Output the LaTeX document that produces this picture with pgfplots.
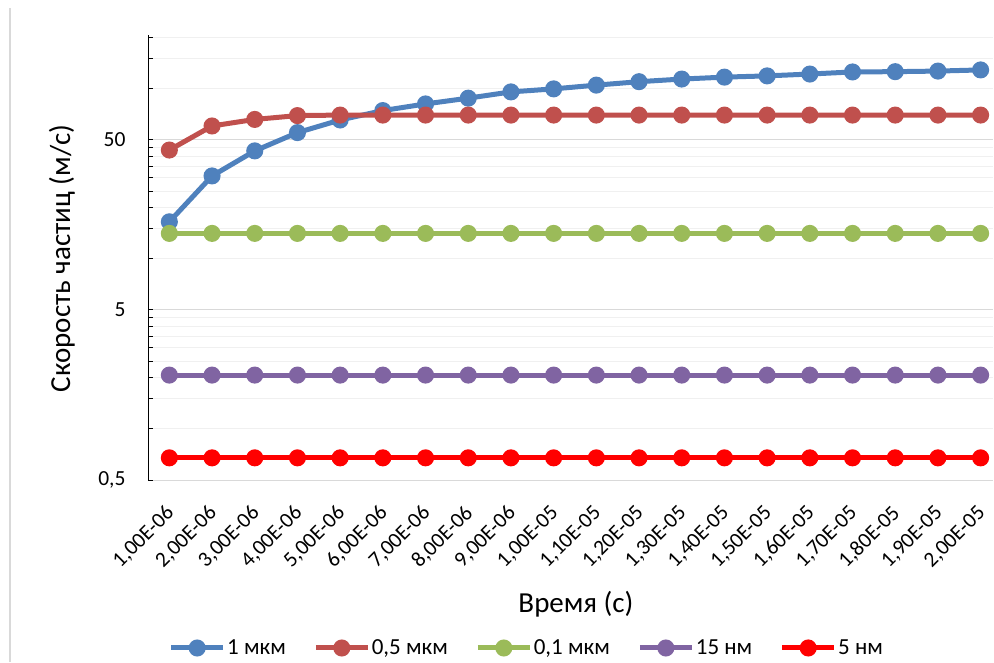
\documentclass[border=0pt]{standalone}
\usepackage{fontspec}
\setmainfont{Carlito}
\usepackage{pgfplots}
\pgfplotsset{compat=1.18}
\definecolor{cBlue}{HTML}{4F81BD}
\definecolor{cRed}{HTML}{C0504D}
\definecolor{cGreen}{HTML}{9BBB59}
\definecolor{cPurple}{HTML}{8064A2}
\definecolor{cPure}{HTML}{FF0000}
\definecolor{gMaj}{HTML}{D9D9D9}
\definecolor{gMin}{HTML}{F0F0F0}
\begin{document}
\begin{tikzpicture}
\path[use as bounding box] (0pt,0pt) rectangle (994pt,662pt);
\draw[gMaj, line width=1.5pt] (10pt,0pt) -- (10pt,654pt);
\begin{axis}[
  at={(148pt,182pt)}, anchor=south west,
  scale only axis, width=845pt, height=445pt,
  ymode=log, ymin=0.5, ymax=207,
  xmin=-0.5, xmax=19.29,
  axis y line*=left, axis x line*=bottom,
  x axis line style={draw=none},
  y axis line style={black, line width=1pt},
  xtick={0,...,19},
  xticklabels={{1,00E-06},{2,00E-06},{3,00E-06},{4,00E-06},{5,00E-06},{6,00E-06},{7,00E-06},{8,00E-06},{9,00E-06},{1,00E-05},{1,10E-05},{1,20E-05},{1,30E-05},{1,40E-05},{1,50E-05},{1,60E-05},{1,70E-05},{1,80E-05},{1,90E-05},{2,00E-05}},
  xtick style={draw=none},
  xticklabel style={rotate=45, anchor=east, inner sep=0pt, xshift=-20.1pt, yshift=-22.3pt, font=\fontsize{21.5}{25}\selectfont},
  ytick={0.5,5,50},
  yticklabels={{0,5},5,50},
  minor ytick={1,1.5,2,2.5,3,3.5,4,4.5,10,15,20,25,30,35,40,45,100,150,200},
  ymajorgrids, yminorgrids,
  major grid style={gMaj, line width=1pt},
  minor grid style={gMin, line width=1pt},
  ytick style={black, line width=1pt},
  major tick length=5pt, minor tick length=5pt,
  tick align=inside,
  yticklabel style={anchor=east, xshift=-19pt, font=\fontsize{21.5}{25}\selectfont},
  xlabel={Время (с)},
  xlabel style={at={(axis description cs:0.5065,-0.2787)}, anchor=center, font=\fontsize{29}{34}\selectfont},
  ylabel={Скорость частиц (м/с)},
  ylabel style={at={(axis description cs:-0.1018,0.4978)}, anchor=center, rotate=0, font=\fontsize{29}{34}\selectfont},
  legend columns=5,
  legend style={draw=none, fill=none, at={(axis description cs:0.448,-0.3775)}, anchor=center,
    font=\fontsize{23}{27}\selectfont, nodes={inner sep=1.5pt},
    /tikz/every even column/.append style={column sep=26pt},
    inner sep=0pt},
  legend image code/.code={\draw[mark repeat=2,mark phase=2,#1] plot coordinates {(0pt,0pt) (26pt,0pt) (52pt,0pt)};},
  every axis plot/.append style={line width=5pt, mark=*, mark size=6pt, mark options={solid}},
  clip=false,
]
\addplot[color=cBlue] coordinates {(0,16.5) (1,30.7) (2,43.1) (3,55.2) (4,65.5) (5,74.4) (6,81.4) (7,88) (8,95.8) (9,99.8) (10,105) (11,110) (12,114) (13,117) (14,119) (15,122) (16,125.5) (17,126) (18,127) (19,129)};
\addplot[color=cRed] coordinates {(0,43.6) (1,60.4) (2,66) (3,69.5) (4,70) (5,70) (6,70) (7,70) (8,70) (9,70) (10,70) (11,70) (12,70) (13,70) (14,70) (15,70) (16,70) (17,70) (18,70) (19,70)};
\addplot[color=cGreen] coordinates {(0,14.1) (1,14.1) (2,14.1) (3,14.1) (4,14.1) (5,14.1) (6,14.1) (7,14.1) (8,14.1) (9,14.1) (10,14.1) (11,14.1) (12,14.1) (13,14.1) (14,14.1) (15,14.1) (16,14.1) (17,14.1) (18,14.1) (19,14.1)};
\addplot[color=cPurple] coordinates {(0,2.07) (1,2.07) (2,2.07) (3,2.07) (4,2.07) (5,2.07) (6,2.07) (7,2.07) (8,2.07) (9,2.07) (10,2.07) (11,2.07) (12,2.07) (13,2.07) (14,2.07) (15,2.07) (16,2.07) (17,2.07) (18,2.07) (19,2.07)};
\addplot[color=cPure] coordinates {(0,0.675) (1,0.675) (2,0.675) (3,0.675) (4,0.675) (5,0.675) (6,0.675) (7,0.675) (8,0.675) (9,0.675) (10,0.675) (11,0.675) (12,0.675) (13,0.675) (14,0.675) (15,0.675) (16,0.675) (17,0.675) (18,0.675) (19,0.675)};
\legend{1 мкм, {0,5 мкм}, {0,1 мкм}, 15 нм, 5 нм}
\end{axis}
\end{tikzpicture}
\end{document}
